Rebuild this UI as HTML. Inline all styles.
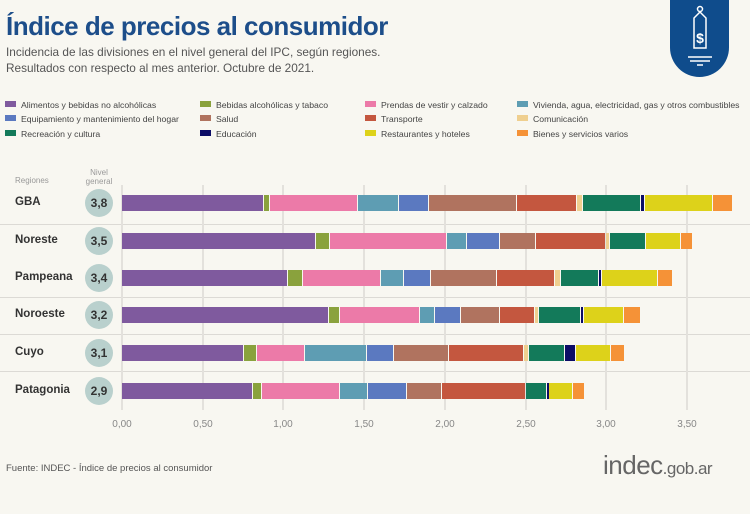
<!DOCTYPE html>
<html><head><meta charset="utf-8"><style>
*{margin:0;padding:0;box-sizing:border-box}
body{width:750px;height:514px;background:#f8f7f1;position:relative;overflow:hidden;font-family:"Liberation Sans",sans-serif}
.a{position:absolute}
.t{left:6px;top:11px;font-size:26px;font-weight:bold;color:#1d4e8a;letter-spacing:-0.5px}
.s{left:6px;font-size:11.8px;color:#555}
.lg{font-size:8.7px;color:#444;white-space:nowrap}
.lg i{display:inline-block;width:11px;height:6px;margin-right:5px;vertical-align:1px}
.rl{left:15px;font-size:11.5px;font-weight:bold;color:#333}
.c{left:85px;width:28px;height:28px;border-radius:50%;background:#b9d0cd;color:#333;font-weight:bold;font-size:12px;text-align:center;line-height:28px}
.g{width:2px;top:185px;height:225px;background:#e3e1dc}
.h{left:0;width:750px;height:1px;background:#dcdad5}
.tk{top:419px;font-size:10px;color:#888;width:40px;text-align:center}
.b{height:16px}
</style></head><body>
<div class="a t">Índice de precios al consumidor</div>
<div class="a s" style="top:45px">Incidencia de las divisiones en el nivel general del IPC, según regiones.</div>
<div class="a s" style="top:61px">Resultados con respecto al mes anterior. Octubre de 2021.</div>
<div class="a" style="left:670px;top:0;width:59px;height:77px;background:#0f4c8c;border-radius:0 0 30px 30px"></div>
<svg class="a" style="left:680px;top:4px" width="40" height="65" viewBox="0 0 40 65"><g stroke="#fff" fill="none" stroke-width="1.5"><circle cx="20" cy="5" r="2.5"/><path d="M14 14 L20 8 L26 14 L26 44 L14 44 Z"/><path d="M8 53h24M10 57h20M17 61h6"/></g><text x="20" y="39" fill="#fff" font-size="14" font-weight="bold" text-anchor="middle" font-family="Liberation Sans">$</text></svg>
<div class="a lg" style="left:5px;top:100px"><i style="background:#7f5a9e"></i>Alimentos y bebidas no alcohólicas</div>
<div class="a lg" style="left:5px;top:114px"><i style="background:#5b79c0"></i>Equipamiento y mantenimiento del hogar</div>
<div class="a lg" style="left:5px;top:129px"><i style="background:#137a5a"></i>Recreación y cultura</div>
<div class="a lg" style="left:200px;top:100px"><i style="background:#8aa23d"></i>Bebidas alcohólicas y tabaco</div>
<div class="a lg" style="left:200px;top:114px"><i style="background:#b0735f"></i>Salud</div>
<div class="a lg" style="left:200px;top:129px"><i style="background:#0c0c66"></i>Educación</div>
<div class="a lg" style="left:365px;top:100px"><i style="background:#ec7aa8"></i>Prendas de vestir y calzado</div>
<div class="a lg" style="left:365px;top:114px"><i style="background:#c4573f"></i>Transporte</div>
<div class="a lg" style="left:365px;top:129px"><i style="background:#ddd21a"></i>Restaurantes y hoteles</div>
<div class="a lg" style="left:517px;top:100px"><i style="background:#5e9db3"></i>Vivienda, agua, electricidad, gas y otros combustibles</div>
<div class="a lg" style="left:517px;top:114px"><i style="background:#efcf8f"></i>Comunicación</div>
<div class="a lg" style="left:517px;top:129px"><i style="background:#f59237"></i>Bienes y servicios varios</div>
<div class="a" style="left:15px;top:176px;font-size:8px;color:#999">Regiones</div>
<div class="a" style="left:82px;top:168px;font-size:8px;color:#999;text-align:center;width:34px;line-height:9px">Nivel<br>general</div>
<div class="a h" style="top:224px"></div><div class="a h" style="top:297px"></div><div class="a h" style="top:334px"></div><div class="a h" style="top:371px"></div>
<div class="a g" style="left:121px"></div><div class="a g" style="left:202px"></div><div class="a g" style="left:282px"></div><div class="a g" style="left:363px"></div><div class="a g" style="left:444px"></div><div class="a g" style="left:525px"></div><div class="a g" style="left:605px"></div><div class="a g" style="left:686px"></div>
<div class="a tk" style="left:102px">0,00</div><div class="a tk" style="left:183px">0,50</div><div class="a tk" style="left:263px">1,00</div><div class="a tk" style="left:344px">1,50</div><div class="a tk" style="left:425px">2,00</div><div class="a tk" style="left:506px">2,50</div><div class="a tk" style="left:586px">3,00</div><div class="a tk" style="left:667px">3,50</div>
<div id="bars"></div>
<div class="a rl" style="top:196px">GBA</div><div class="a c" style="top:189px">3,8</div>
<div class="a rl" style="top:234px">Noreste</div><div class="a c" style="top:227px">3,5</div>
<div class="a rl" style="top:271px">Pampeana</div><div class="a c" style="top:264px">3,4</div>
<div class="a rl" style="top:308px">Noroeste</div><div class="a c" style="top:301px">3,2</div>
<div class="a rl" style="top:346px">Cuyo</div><div class="a c" style="top:339px">3,1</div>
<div class="a rl" style="top:384px">Patagonia</div><div class="a c" style="top:377px">2,9</div>
<div class="a" style="left:6px;top:463px;font-size:9.5px;color:#555">Fuente: INDEC - Índice de precios al consumidor</div>
<div class="a" style="left:603px;top:450px;font-size:26px;color:#666;letter-spacing:-0.5px">indec<span style="font-size:17px">.gob.ar</span></div>
<script>
var C=["#7f5a9e","#8aa23d","#ec7aa8","#5e9db3","#5b79c0","#b0735f","#c4573f","#efcf8f","#137a5a","#0c0c66","#ddd21a","#f59237"];
var R=[[195,[122,264,270,358,399,429,517,577,583,641,645,713,733]],
[233,[122,316,330,447,467,500,536,606,610,646,646,681,693]],
[270,[122,288,303,381,404,431,497,555,561,599,602,658,673]],
[307,[122,329,340,420,435,461,500,535,539,581,584,624,641]],
[345,[122,244,257,305,367,394,449,524,529,565,576,611,625]],
[383,[122,253,262,340,368,407,442,526,526,547,549,573,585]]];
var h="";R.forEach(function(r){var p=r[1];for(var i=0;i<12;i++){var w=p[i+1]-p[i];if(w<=0)continue;h+='<div class="a b" style="top:'+r[0]+'px;left:'+p[i]+'px;width:'+(w>2?w-1:w)+'px;background:'+C[i]+'"></div>';}});
document.getElementById("bars").innerHTML=h;
</script>
</body></html>
